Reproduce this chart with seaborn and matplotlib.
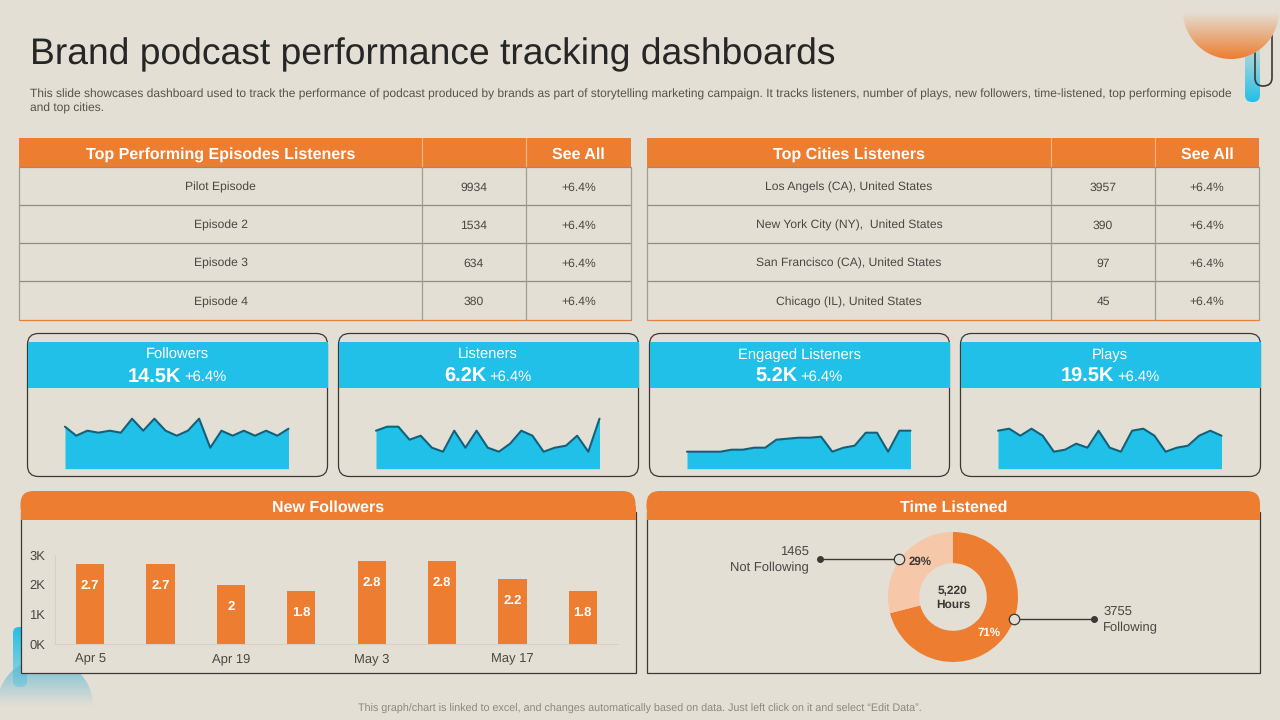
import numpy as np
import pandas as pd
import matplotlib
matplotlib.use('Agg')
import matplotlib.pyplot as plt
from matplotlib.patches import Rectangle, FancyBboxPatch, Circle, PathPatch
from matplotlib.path import Path
from matplotlib.colors import to_rgb
import seaborn as sns

# Data
episode_names = ['Pilot Episode', 'Episode 2', 'Episode 3', 'Episode 4']
episode_listeners = [9934, 1534, 634, 380]
city_names = ['Los Angels (CA), United States', 'New York City (NY),  United States',
              'San Francisco (CA), United States', 'Chicago (IL), United States']
city_listeners = [3957, 390, 97, 45]
row_change = '+6.4%'

kpi_names = ['Followers', 'Listeners', 'Engaged Listeners', 'Plays']
kpi_totals = ['14.5K', '6.2K', '5.2K', '19.5K']
followers = [42, 33, 38, 36, 38, 36, 50, 38, 50, 38, 33, 38, 50, 21, 38, 33, 38, 33, 38, 33, 40]
listeners = [38, 42, 42, 29, 33, 21, 17, 38, 21, 38, 21, 17, 25, 38, 33, 17, 21, 23, 33, 17, 50]
engaged = [17, 17, 17, 17, 19, 19, 21, 21, 29, 30, 31, 31, 32, 17, 21, 23, 36, 36, 17, 38, 38]
plays = [38, 40, 33, 40, 33, 17, 19, 25, 21, 38, 21, 17, 38, 40, 33, 17, 21, 23, 33, 38, 33]
spark_series = [followers, listeners, engaged, plays]

week_labels = ['Apr 5', '', 'Apr 19', '', 'May 3', '', 'May 17', '']
new_followers = [2.7, 2.7, 2, 1.8, 2.8, 2.8, 2.2, 1.8]
time_groups = ['Following', 'Not Following']
time_share = [71, 29]
time_hours = [3755, 1465]

BG = '#E4DFD4'
ORANGE = '#ED7D31'
LIGHT = '#F6C7A8'
BLUE = '#21C0E8'
TEAL = '#12617A'
DARK = '#3B3835'
W, H = 1280, 720

sns.set_theme(style='white')
plt.rcParams['font.family'] = ['Liberation Sans', 'DejaVu Sans']
plt.rcParams['text.hinting'] = 'no_hinting'

fig = plt.figure(figsize=(12.8, 7.2), dpi=100, facecolor=BG)
bg = fig.add_axes([0, 0, 1, 1], zorder=0)
bg.set_xlim(0, W)
bg.set_ylim(H, 0)
bg.axis('off')
bg.patch.set_alpha(0)


def px_axes(x0, y0, x1, y1):
    # axes placed by pixel box, y measured from the top
    ax = fig.add_axes([x0 / W, 1 - y1 / H, (x1 - x0) / W, (y1 - y0) / H], zorder=3)
    ax.patch.set_alpha(0)
    return ax


def label(x, y, s, size, color='#4A4744', ha='center', weight='normal', z=3, ax=None):
    # y is the middle of the capitals, so every row sits on the same baseline
    base = y + size * 100 / 72 * 0.36
    return (ax or bg).text(x, base, s, fontsize=size, color=color, ha=ha, va='baseline',
                           fontweight=weight, zorder=z)


def gradient(patch, x0, y0, x1, y1, color, a_top, a_bottom, z):
    # vertical alpha fade clipped to a patch
    img = np.zeros((256, 2, 4))
    img[..., :3] = to_rgb(color)
    img[..., 3] = np.linspace(a_top, a_bottom, 256)[:, None]
    patch.set(facecolor='none', edgecolor='none', zorder=z)
    bg.add_patch(patch)
    im = bg.imshow(img, extent=(x0, x1, y1, y0), aspect='auto', zorder=z, interpolation='bilinear')
    im.set_clip_path(patch)
    bg.set_xlim(0, W)
    bg.set_ylim(H, 0)


# Corner decorations
gradient(FancyBboxPatch((1245, 40), 15, 62, boxstyle='round,pad=0,rounding_size=7'),
         1245, 40, 1260, 102, BLUE, 0.1, 1, 1)
clip_path = Path([(1255, 40), (1255, 78), (1255, 86), (1263, 86), (1272, 86), (1272, 78), (1272, 30)],
                 [Path.MOVETO, Path.LINETO, Path.CURVE3, Path.CURVE3, Path.CURVE3, Path.CURVE3, Path.LINETO])
bg.add_patch(PathPatch(clip_path, fill=False, edgecolor=DARK, lw=1.2, zorder=1.5))
bg.add_patch(Circle((1231, 11), 48, facecolor=BG, edgecolor='none', zorder=1.8))
gradient(Circle((1231, 11), 48), 1180, 12, 1282, 59, ORANGE, 0, 1, 2)
gradient(FancyBboxPatch((13, 627), 14, 60, boxstyle='round,pad=0,rounding_size=6'),
         13, 627, 27, 690, BLUE, 1, 0.3, 1)
gradient(Circle((45, 706), 48), 0, 658, 95, 706, '#5FB9D6', 0.9, 0, 1)

# Title and note
label(30, 51, 'Brand podcast performance tracking dashboards', 26.83, color='#262626', ha='left')
label(30, 93.5, 'This slide showcases dashboard used to track the performance of podcast produced by brands as part of '
      'storytelling marketing campaign. It tracks listeners, number of plays, new followers, time-listened, top performing episode',
      8.68, color='#55524E', ha='left')
label(30, 107.5, 'and top cities.', 8.68, color='#55524E', ha='left')
label(640, 708, 'This graph/chart is linked to excel, and changes automatically based on data. Just left click on it and select \u201cEdit Data\u201d.',
      7.75, color='#8C8880')


def draw_table(x0, x1, x2, x3, title, names, values):
    bg.add_patch(Rectangle((x0, 138), x3 - x0, 29, facecolor=ORANGE, edgecolor='none', zorder=1))
    for x in (x1, x2):
        bg.plot([x, x], [138, 167], color='#F4B183', lw=0.9, zorder=2)
    label((x0 + x1) / 2, 153, title, 11.5, color='white', weight='bold')
    label((x2 + x3) / 2, 153, 'See All', 11.5, color='white', weight='bold')
    rows = [167, 205, 243, 281, 319.5]
    for y in rows[:-1]:
        bg.plot([x0, x3], [y, y], color='#8F8C84', lw=0.9, zorder=2)
    bg.plot([x0, x3], [rows[-1], rows[-1]], color=ORANGE, lw=0.9, zorder=2)
    for x in (x0, x1, x2, x3):
        bg.plot([x, x], [167, rows[-1]], color='#A09D95', lw=0.9, zorder=2)
    for i, (name, val) in enumerate(zip(names, values)):
        y = (rows[i] + rows[i + 1]) / 2 + 0.6
        label((x0 + x1) / 2, y, name, 8.7)
        label((x1 + x2) / 2, y, str(val), 8.7)
        label((x2 + x3) / 2, y, row_change, 8.7)


draw_table(19, 422, 526, 631, 'Top Performing Episodes Listeners', episode_names, episode_listeners)
draw_table(647, 1051, 1155, 1259, 'Top Cities Listeners', city_names, city_listeners)

# KPI cards
card_left = [27.5, 338.5, 649.5, 960.5]
spark_left = [65, 376, 687, 998]
renderer = fig.canvas.get_renderer()
for left, sleft, name, total, series in zip(card_left, spark_left, kpi_names, kpi_totals, spark_series):
    bg.add_patch(FancyBboxPatch((left, 333.5), 300, 143, boxstyle='round,pad=0,rounding_size=11',
                                facecolor='none', edgecolor=DARK, lw=0.9, zorder=2))
    bg.add_patch(Rectangle((left, 342), 300, 46, facecolor=BLUE, edgecolor='none', zorder=2))
    cx = left + 149.5
    label(cx, 354, name, 10.6, color='white')
    # total and change sit together, centred as one line
    big = label(cx, 375, total, 14.4, color='white', ha='left', weight='bold')
    small = label(cx, 376, row_change, 10.6, color='white', ha='left')
    big_w = big.get_window_extent(renderer).width
    small_w = small.get_window_extent(renderer).width
    start = cx - (big_w + 3 + small_w) / 2
    big.set_x(start)
    small.set_x(start + big_w + 3)

    ax = px_axes(sleft, 408.7, sleft + 223.5, 468.7)
    df = pd.DataFrame({'step': range(len(series)), 'value': series})
    ax.fill_between(df['step'], df['value'], 0, color=BLUE, lw=0)
    sns.lineplot(data=df, x='step', y='value', ax=ax, color=TEAL, lw=1.5, clip_on=False)
    ax.set_xlim(0, len(series) - 1)
    ax.set_ylim(0, 60)
    ax.axis('off')


def draw_panel(x0, x1, title):
    bg.add_patch(Rectangle((x0, 512), x1 - x0, 161, facecolor=BG, edgecolor=DARK, lw=0.9, zorder=2))
    bg.add_patch(FancyBboxPatch((x0, 491), x1 - x0, 29, boxstyle='round,pad=0,rounding_size=13',
                                facecolor=ORANGE, edgecolor='none', zorder=2.2))
    bg.add_patch(Rectangle((x0, 506), x1 - x0, 14, facecolor=ORANGE, edgecolor='none', zorder=2.2))
    label((x0 + x1) / 2, 506, title, 11.5, color='white', weight='bold')


draw_panel(20.5, 635.5, 'New Followers')
draw_panel(646.5, 1260, 'Time Listened')

# New followers bars
bar_ax = px_axes(55, 555, 618, 644)
bar_df = pd.DataFrame({'week': range(len(new_followers)), 'k': new_followers})
sns.barplot(data=bar_df, x='week', y='k', ax=bar_ax, color=ORANGE, saturation=1, width=0.4, linewidth=0)
bar_ax.set_xlim(-0.5, 7.5)
bar_ax.set_ylim(0, 3)
bar_ax.set_yticks([0, 1, 2, 3], ['0K', '1K', '2K', '3K'])
bar_ax.set_xticks(range(len(week_labels)), week_labels)
bar_ax.set_xlabel('')
bar_ax.set_ylabel('')
bar_ax.tick_params(axis='both', length=0, labelsize=9.4, labelcolor='#4A4744')
bar_ax.tick_params(axis='x', pad=13)
bar_ax.tick_params(axis='y', pad=7)
for tick in bar_ax.get_xticklabels():
    tick.set_verticalalignment('baseline')
for side in ('top', 'right'):
    bar_ax.spines[side].set_visible(False)
for side in ('left', 'bottom'):
    bar_ax.spines[side].set_color('#D6D1C6')
    bar_ax.spines[side].set_linewidth(0.8)
bar_ax.bar_label(bar_ax.containers[0], labels=[f'{v:g}' for v in new_followers], label_type='edge',
                 padding=-20, color='white', fontsize=9.5, fontweight='bold')

# Time listened donut
pie_ax = px_axes(888, 532, 1018, 662)
pie_ax.pie(time_share, colors=[ORANGE, LIGHT], startangle=90, counterclock=False, radius=1,
           wedgeprops={'width': 0.48, 'linewidth': 0})
pie_ax.set_xlim(-1, 1)
pie_ax.set_ylim(-1, 1)

overlay = px_axes(0, 0, W, H)
overlay.set_xlim(0, W)
overlay.set_ylim(H, 0)
overlay.axis('off')
overlay.plot([820, 899], [558.5, 558.5], color=DARK, lw=1)
overlay.plot([1014, 1094], [619, 619], color=DARK, lw=1)
overlay.plot([820, 1094], [558.5, 619], ls='none', marker='o', ms=4, color=DARK)
overlay.plot([899, 1014], [558.5, 619], ls='none', marker='o', ms=7.5, mfc=BG, mec=DARK, mew=0.9)
label(809, 550.5, str(time_hours[1]), 9.4, ha='right', ax=overlay)
label(809, 566.5, time_groups[1], 9.4, ha='right', ax=overlay)
label(1103, 610.5, str(time_hours[0]), 9.4, ha='left', ax=overlay)
label(1103, 626.5, time_groups[0], 9.4, ha='left', ax=overlay)
label(920, 560.5, f'{time_share[1]}%', 8.3, color=DARK, weight='bold', ax=overlay)
label(989, 632, f'{time_share[0]}%', 8.3, color='white', weight='bold', ax=overlay)
label(953, 590, '5,220', 8.6, color=DARK, weight='bold', ax=overlay)
label(953, 604, 'Hours', 8.6, color=DARK, weight='bold', ax=overlay)

fig.savefig('out.png', dpi=100, facecolor=BG)
